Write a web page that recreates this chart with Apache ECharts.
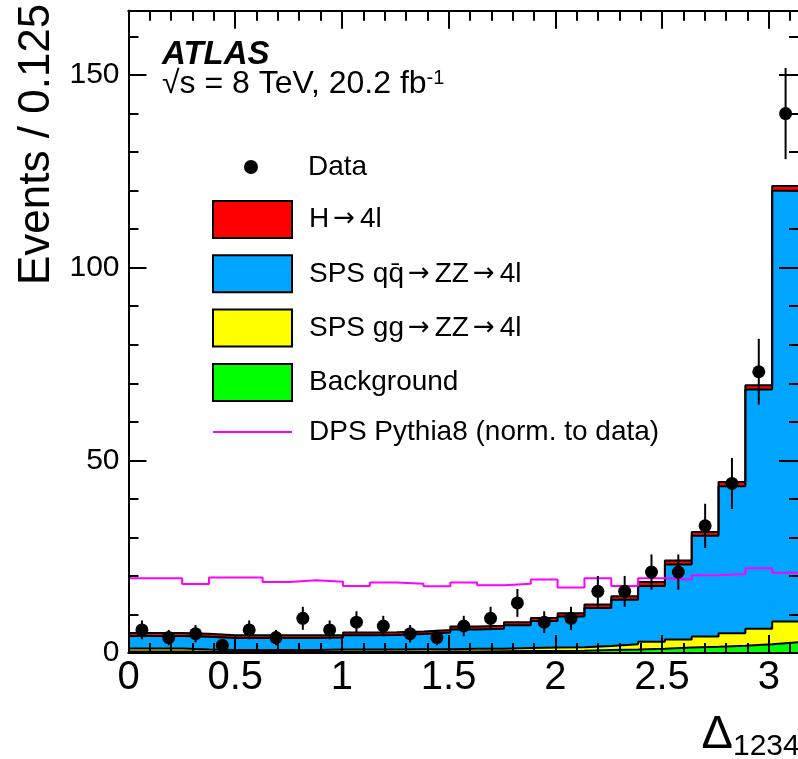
<!DOCTYPE html>
<html>
<head>
<meta charset="utf-8">
<script src="https://cdn.jsdelivr.net/npm/echarts@6/dist/echarts.min.js"></script>
<style>
  html, body { margin: 0; padding: 0; background: #fff; }
  #chart { width: 798px; height: 759px; }
</style>
</head>
<body>
<div id="chart"></div>
<script>
// Delta_1234 distribution: 25 bins from 0 to pi
const X_MAX = Math.PI;
const N_BINS = 25;
const Y_MAX = 166.7;

const xTickLabels = ['0', '0.5', '1', '1.5', '2', '2.5', '3'];
const yTickLabels = ['0', '50', '100', '150'];

// Observed events per bin and their statistical uncertainties
const dataCounts = [6, 4, 5, 2, 6, 4, 9, 6, 8, 7, 5, 4, 7, 9, 13, 8, 9, 16, 16, 21, 21, 33, 44, 73, 140];
const dataErr = [2.45, 2.00, 2.24, 1.41, 2.45, 2.00, 3.00, 2.45, 2.83, 2.65, 2.24, 2.00, 2.65, 3.00, 3.61, 2.83, 3.00, 4.00, 4.00, 4.58, 4.58, 5.74, 6.63, 8.54, 11.83];

// Stacked predictions (per-process contributions)
const higgs = [0.8, 0.8, 0.8, 0.7, 0.7, 0.7, 0.7, 0.7, 0.7, 0.7, 0.7, 0.7, 0.8, 0.8, 0.8, 0.8, 0.8, 0.9, 0.9, 1.0, 1.0, 1.0, 1.1, 1.1, 1.2];
const spsQQ = [3.2, 3.2, 3.3, 3.1, 3.1, 3.1, 3.1, 3.1, 3.7, 3.8, 3.9, 4.3, 5.0, 5.2, 5.9, 6.9, 8.0, 9.9, 11.5, 14.5, 19.5, 26.1, 38.2, 62.1, 111.8];
const spsGG = [0.8, 0.8, 0.6, 0.5, 0.5, 0.5, 0.5, 0.6, 0.6, 0.6, 0.65, 0.6, 0.7, 0.65, 0.8, 0.85, 0.9, 1.0, 1.4, 1.8, 2.1, 2.7, 3.2, 4.0, 5.4];
const background = [0.4, 0.4, 0.3, 0.3, 0.3, 0.3, 0.3, 0.3, 0.3, 0.3, 0.35, 0.4, 0.4, 0.45, 0.5, 0.55, 0.6, 0.8, 0.9, 1.1, 1.4, 1.6, 1.9, 2.3, 2.8];

// DPS template normalised to the data
const dpsPythia8 = [19.4, 19.4, 17.9, 19.6, 19.6, 18.4, 18.9, 18.5, 17.4, 18.3, 18.0, 17.3, 18.3, 17.6, 18.0, 19.1, 17.0, 19.4, 17.4, 19.4, 19.1, 20.2, 20.5, 22.0, 20.8];

const COLORS = { higgs: '#ff0000', qq: '#00a5ff', gg: '#ffff00', bkg: '#00ff00', dps: '#ff00ff' };
const FONT = '"Liberation Sans", Arial, Helvetica, sans-serif';

const binWidth = X_MAX / N_BINS;
const binEdge = i => i * binWidth;
const binCenter = i => (i + 0.5) * binWidth;

function addArrays(a, b) { return a.map((v, i) => v + b[i]); }
const topBkg = background;
const topGG = addArrays(topBkg, spsGG);
const topQQ = addArrays(topGG, spsQQ);
const topHiggs = addArrays(topQQ, higgs);

// histogram outline as a step line through the left bin edges
function stepPoints(values) {
  const pts = values.map((v, i) => [binEdge(i), v]);
  pts.push([X_MAX, values[values.length - 1]]);
  return pts;
}

function stackLayer(name, top, color) {
  return {
    name, type: 'line', step: 'end', data: stepPoints(top),
    xAxisIndex: 0, yAxisIndex: 0,
    symbol: 'none', showSymbol: false, silent: true,
    lineStyle: { color: '#000', width: 2 },
    itemStyle: { color },
    areaStyle: { color, opacity: 1 },
    z: 2
  };
}

function isMultiple(v, step) { return Math.abs(v / step - Math.round(v / step)) < 1e-6; }

const tickLine = { color: '#000', width: 2 };

function xAxisDef(position, interval, len, withLabels, gridIndex) {
  return {
    type: 'value', gridIndex, position, min: 0, max: X_MAX, interval,
    axisLine: { show: true, onZero: false, lineStyle: { color: '#000', width: 2 } },
    axisTick: { show: true, inside: true, length: len, lineStyle: tickLine },
    axisLabel: withLabels ? {
      show: true, margin: 5, color: '#000', fontSize: 40, fontFamily: FONT,
      formatter: v => isMultiple(v, 0.5) ? (xTickLabels[Math.round(v / 0.5)] || '') : ''
    } : { show: false },
    splitLine: { show: false },
    z: 10
  };
}

function yAxisDef(position, interval, len, withLabels, gridIndex) {
  return {
    type: 'value', gridIndex, position, min: 0, max: Y_MAX, interval,
    axisLine: { show: true, onZero: false, lineStyle: { color: '#000', width: 2 } },
    axisTick: { show: true, inside: true, length: len, lineStyle: tickLine },
    axisLabel: withLabels ? {
      show: true, margin: 9, color: '#000', fontSize: 30, fontFamily: FONT,
      formatter: v => isMultiple(v, 50) ? (yTickLabels[Math.round(v / 50)] || '') : ''
    } : { show: false },
    splitLine: { show: false },
    z: 10
  };
}

const gridBox = { left: 128.5, right: -1, top: 10.7, bottom: 106, containLabel: false, outerBoundsMode: 'none' };

// arrows drawn in a face with a longer arrow glyph, with a little room around them
const legendRich = { a: { fontFamily: '"DejaVu Sans", sans-serif', fontSize: 26, color: '#000', padding: [0, 5, 0, 4] } };
const legendFormatter = name => name.replace(/→/g, '{a|→}');

const chart = echarts.init(document.getElementById('chart'), null, { renderer: 'canvas' });

chart.setOption({
  animation: false,
  backgroundColor: '#fff',
  grid: [Object.assign({}, gridBox), Object.assign({}, gridBox)],
  xAxis: [
    xAxisDef('bottom', 0.5, 18, true, 0),
    xAxisDef('top', 0.5, 18, false, 0),
    xAxisDef('bottom', 0.1, 10, false, 1),
    xAxisDef('top', 0.1, 10, false, 1)
  ],
  yAxis: [
    yAxisDef('left', 50, 18, true, 0),
    yAxisDef('right', 50, 20, false, 0),
    yAxisDef('left', 10, 10, false, 1),
    yAxisDef('right', 10, 10, false, 1)
  ],
  legend: [
    {
      orient: 'vertical', left: 244, top: 153, padding: 0,
      itemWidth: 14, itemHeight: 14, selectedMode: false,
      textStyle: { fontSize: 28, fontFamily: FONT, color: '#000', padding: [0, 0, 0, 45] },
      data: [{ name: 'Data', icon: 'circle', itemStyle: { color: '#000', opacity: 1 } }]
    },
    {
      orient: 'vertical', left: 212, top: 200, padding: 0,
      itemWidth: 79, itemHeight: 37, itemGap: 15.3, selectedMode: false,
      formatter: legendFormatter,
      textStyle: { fontSize: 28, fontFamily: FONT, color: '#000', padding: [0, 0, 0, 12], rich: legendRich },
      data: [
        { name: 'H→4l', icon: 'rect', itemStyle: { color: COLORS.higgs, borderColor: '#000', borderWidth: 2 } },
        { name: 'SPS qq\u0304→ZZ→4l', icon: 'rect', itemStyle: { color: COLORS.qq, borderColor: '#000', borderWidth: 2 } },
        { name: 'SPS gg→ZZ→4l', icon: 'rect', itemStyle: { color: COLORS.gg, borderColor: '#000', borderWidth: 2 } },
        { name: 'Background', icon: 'rect', itemStyle: { color: COLORS.bkg, borderColor: '#000', borderWidth: 2 } },
        { name: 'DPS Pythia8 (norm. to data)', itemStyle: { color: 'rgba(0,0,0,0)', borderColor: 'rgba(0,0,0,0)', borderWidth: 0 } }
      ]
    }
  ],
  series: [
    stackLayer('H→4l', topHiggs, COLORS.higgs),
    stackLayer('SPS qq\u0304→ZZ→4l', topQQ, COLORS.qq),
    stackLayer('SPS gg→ZZ→4l', topGG, COLORS.gg),
    stackLayer('Background', topBkg, COLORS.bkg),
    {
      name: 'DPS Pythia8 (norm. to data)', type: 'line', step: 'end',
      data: stepPoints(dpsPythia8), xAxisIndex: 0, yAxisIndex: 0,
      symbol: 'none', showSymbol: false, silent: true,
      lineStyle: { color: COLORS.dps, width: 2 }, itemStyle: { color: COLORS.dps },
      z: 3
    },
    {
      name: 'Data uncertainty', type: 'custom', xAxisIndex: 0, yAxisIndex: 0, silent: true,
      data: dataCounts.map((v, i) => [binCenter(i), v, dataErr[i]]),
      encode: { x: 0, y: 1 },
      renderItem: (params, api) => {
        const x = api.value(0), y = api.value(1), e = api.value(2);
        const p1 = api.coord([x, y + e]);
        const p2 = api.coord([x, y - e]);
        return {
          type: 'line',
          shape: { x1: p1[0], y1: p1[1], x2: p2[0], y2: p2[1] },
          style: { stroke: '#000', lineWidth: 2 }
        };
      },
      z: 4
    },
    {
      name: 'Data', type: 'scatter', xAxisIndex: 0, yAxisIndex: 0, silent: true,
      data: dataCounts.map((v, i) => [binCenter(i), v]),
      symbol: 'circle', symbolSize: 13, itemStyle: { color: '#000', opacity: 1 },
      z: 5
    }
  ],
  graphic: [
    {
      type: 'text', x: 37, y: 285, rotation: Math.PI / 2, silent: true,
      style: { text: 'Events / 0.125', font: '44px ' + FONT, fill: '#000', align: 'left', verticalAlign: 'middle' }
    },
    {
      type: 'text', x: 733, y: 735, silent: true,
      style: { text: 'Δ', font: '47px ' + FONT, fill: '#000', align: 'right', verticalAlign: 'middle' }
    },
    {
      type: 'text', x: 733, y: 747, silent: true,
      style: { text: '1234', font: '30px ' + FONT, fill: '#000', align: 'left', verticalAlign: 'middle' }
    },
    {
      type: 'text', x: 162, y: 55, silent: true,
      style: { text: 'ATLAS', font: 'italic bold 33px ' + FONT, fill: '#000', align: 'left', verticalAlign: 'middle' }
    },
    {
      type: 'text', x: 162, y: 84, silent: true,
      style: {
        text: '{m|√s = 8 TeV, 20.2 fb}{s|-1}', fill: '#000', align: 'left', verticalAlign: 'middle',
        rich: {
          m: { fontSize: 32, fontFamily: FONT, lineHeight: 32, verticalAlign: 'bottom', fill: '#000' },
          s: { fontSize: 20, fontFamily: FONT, lineHeight: 20, verticalAlign: 'top', fill: '#000' }
        }
      }
    }
  ]
});
</script>
</body>
</html>
